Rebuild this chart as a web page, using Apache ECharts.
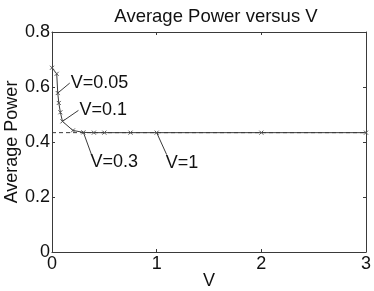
<!DOCTYPE html>
<html><head><meta charset="utf-8">
<script src="https://cdn.jsdelivr.net/npm/echarts@6/dist/echarts.min.js"></script>
<style>html,body{margin:0;padding:0;background:#fff}#c{width:374px;height:291px}</style>
</head><body><div id="c"></div>
<script>
const vValues = [0, 0.045, 0.055, 0.065, 0.08, 0.1, 0.2, 0.3, 0.4, 0.5, 0.75, 1, 2, 3];
const powerValues = [0.670, 0.648, 0.578, 0.542, 0.508, 0.475, 0.442, 0.435, 0.434, 0.434, 0.434, 0.434, 0.434, 0.434];
const asymptote = 0.434;
const xTicks = [0, 1, 2, 3];
const yTicks = [0, 0.2, 0.4, 0.6, 0.8];
const annoTexts = ['V=0.05', 'V=0.1', 'V=0.3', 'V=1'];
const annoIndex = [2, 5, 7, 11];
const annoOffset = [[12, -10], [16, -11], [8, 22], [10, 22]];

const FONT = 'Liberation Sans, Arial, sans-serif';
const LINE = '#3a3a3a';
const chart = echarts.init(document.getElementById('c'), null, {renderer: 'canvas'});
const axisCommon = () => ({
  axisLine: {show: true, onZero: false, lineStyle: {color: LINE, width: 1}},
  axisTick: {show: true, inside: true, length: 3, lineStyle: {color: LINE}},
  splitLine: {show: false},
});
const opt = {
  animation: false,
  backgroundColor: '#fff',
  title: {text: 'Average Power versus V', left: 211, top: 2, textAlign: 'center',
    textStyle: {fontFamily: FONT, fontSize: 18.5, fontWeight: 'normal', color: '#111'}},
  grid: {left: 52, right: 8, top: 32, bottom: 39, containLabel: false, outerBoundsMode: 'none'},
  xAxis: [
    Object.assign({type: 'value', min: xTicks[0], max: xTicks[xTicks.length-1], interval: 1,
      name: 'V', nameLocation: 'middle', nameGap: 20, nameMoveOverlap: false,
      nameTextStyle: {fontFamily: FONT, fontSize: 18, color: '#111'},
      axisLabel: {fontFamily: FONT, fontSize: 18, color: '#111', margin: 3}}, axisCommon()),
    Object.assign({type: 'value', position: 'top', min: 0, max: 3, interval: 1,
      axisLabel: {show: false}}, axisCommon())
  ],
  yAxis: [
    Object.assign({type: 'value', min: yTicks[0], max: yTicks[yTicks.length-1], interval: 0.2,
      name: 'Average Power', nameLocation: 'middle', nameGap: 31, nameMoveOverlap: false,
      nameTextStyle: {fontFamily: FONT, fontSize: 18, color: '#111'},
      axisLabel: {fontFamily: FONT, fontSize: 18, color: '#111', margin: 2, padding: [0, 0, 4, 0],
        formatter: v => String(Math.round(v*10)/10)}}, axisCommon()),
    Object.assign({type: 'value', position: 'right', min: 0, max: 0.8, interval: 0.2,
      axisLabel: {show: false}}, axisCommon())
  ],
  series: [
    {type: 'line', data: [[xTicks[0], asymptote], [xTicks[xTicks.length-1], asymptote]],
      symbol: 'none', lineStyle: {color: LINE, width: 1, type: [4, 3]}, silent: true, z: 1},
    {type: 'line', data: vValues.map((v, i) => [v, powerValues[i]]),
      symbol: 'path://M0,0L10,10M10,0L0,10', symbolSize: 4,
      itemStyle: {color: 'none', borderColor: '#555', borderWidth: 1},
      lineStyle: {color: LINE, width: 1}, z: 2}
  ]
};
chart.setOption(opt);
const elements = [];
annoTexts.forEach((t, k) => {
  const i = annoIndex[k];
  const p = chart.convertToPixel({xAxisIndex: 0, yAxisIndex: 0}, [vValues[i], powerValues[i]]);
  const e = [p[0] + annoOffset[k][0], p[1] + annoOffset[k][1]];
  elements.push({type: 'line', shape: {x1: p[0], y1: p[1], x2: e[0], y2: e[1]},
    style: {stroke: LINE, lineWidth: 1}, z: 10});
  const below = annoOffset[k][1] > 0;
  elements.push({type: 'text', x: e[0] + (below ? -1 : 1), y: below ? e[1] + 8 : e[1],
    style: {text: t, font: '18px ' + FONT, fill: '#111', verticalAlign: 'middle', align: 'left'}, z: 10});
});
chart.setOption({graphic: elements});
</script></body></html>
